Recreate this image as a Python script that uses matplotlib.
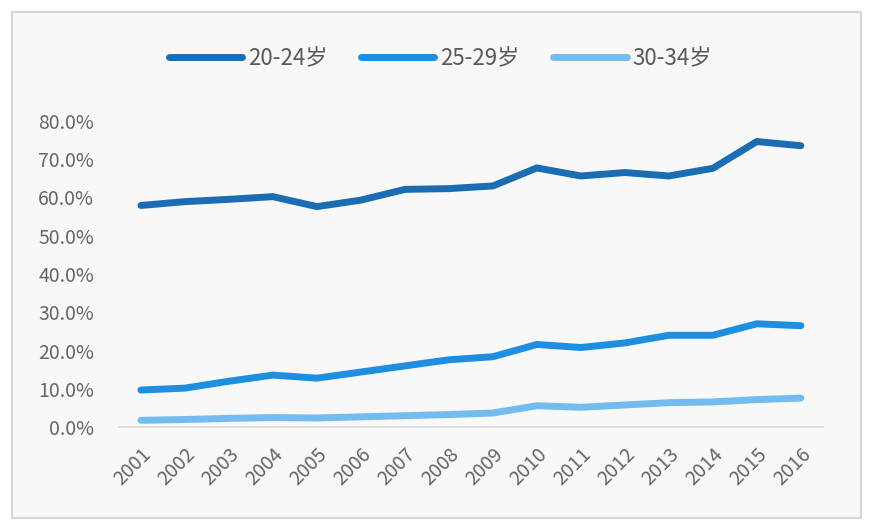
import matplotlib
matplotlib.use("Agg")
import matplotlib.pyplot as plt
from matplotlib.ticker import PercentFormatter

plt.rcParams['font.family'] = ['Noto Sans CJK SC', 'DejaVu Sans']

years = [str(y) for y in range(2001, 2017)]
age_20_24 = [57.9, 58.9, 59.5, 60.2, 57.6, 59.3, 62.1, 62.3, 63.0, 67.7, 65.6, 66.5, 65.6, 67.6, 74.6, 73.5]
age_25_29 = [9.7, 10.2, 12.0, 13.6, 12.8, 14.4, 16.0, 17.6, 18.4, 21.6, 20.8, 22.0, 24.0, 24.0, 27.0, 26.5]
age_30_34 = [1.8, 2.0, 2.3, 2.5, 2.4, 2.7, 3.0, 3.3, 3.7, 5.6, 5.2, 5.8, 6.4, 6.6, 7.2, 7.6]
labels = ['20-24岁', '25-29岁', '30-34岁']
colors = ['#1a6db3', '#1e8ee0', '#74bcef']

W, H = 881, 530
bg = '#f8f8f8'
fig = plt.figure(figsize=(W / 100, H / 100), dpi=100, facecolor='white')

# grey-edged panel the chart sits on
fig.patches.append(plt.Rectangle((12 / W, 12 / H), (861 - 12) / W, (518 - 12) / H,
                                 transform=fig.transFigure, facecolor=bg,
                                 edgecolor='#d6d6d6', lw=1.5, zorder=-5))

ax = fig.add_axes([0.135, 0.194, 0.799, 0.578])
ax.patch.set_alpha(0)

x = range(len(years))
for vals, lab, c in zip([age_20_24, age_25_29, age_30_34], labels, colors):
    ax.plot(x, vals, color=c, lw=5, label=lab, solid_capstyle='round', solid_joinstyle='round')

ax.set_xlim(-0.5, len(years) - 0.5)
ax.set_ylim(0, 80)
ax.set_yticks(range(0, 81, 10))
ax.yaxis.set_major_formatter(PercentFormatter(decimals=1))
ax.set_xticks(list(x))
ax.set_xticklabels(years, rotation=45, ha='right', rotation_mode='anchor')

for s in ['top', 'right', 'left']:
    ax.spines[s].set_visible(False)
ax.spines['bottom'].set_color('#d9d9d9')
ax.spines['bottom'].set_linewidth(1.2)
ax.tick_params(axis='y', length=0, pad=18, labelsize=14, labelcolor='#666666')
ax.tick_params(axis='x', length=0, pad=12, labelsize=14, labelcolor='#666666')

leg = fig.legend(loc='center', bbox_to_anchor=(0.5, 0.89), ncol=3, frameon=False,
                 fontsize=16, handlelength=3.3, handletextpad=0.27, columnspacing=1.5)
for t in leg.get_texts():
    t.set_color('#595959')

fig.savefig('out.png', dpi=100, facecolor='white')
